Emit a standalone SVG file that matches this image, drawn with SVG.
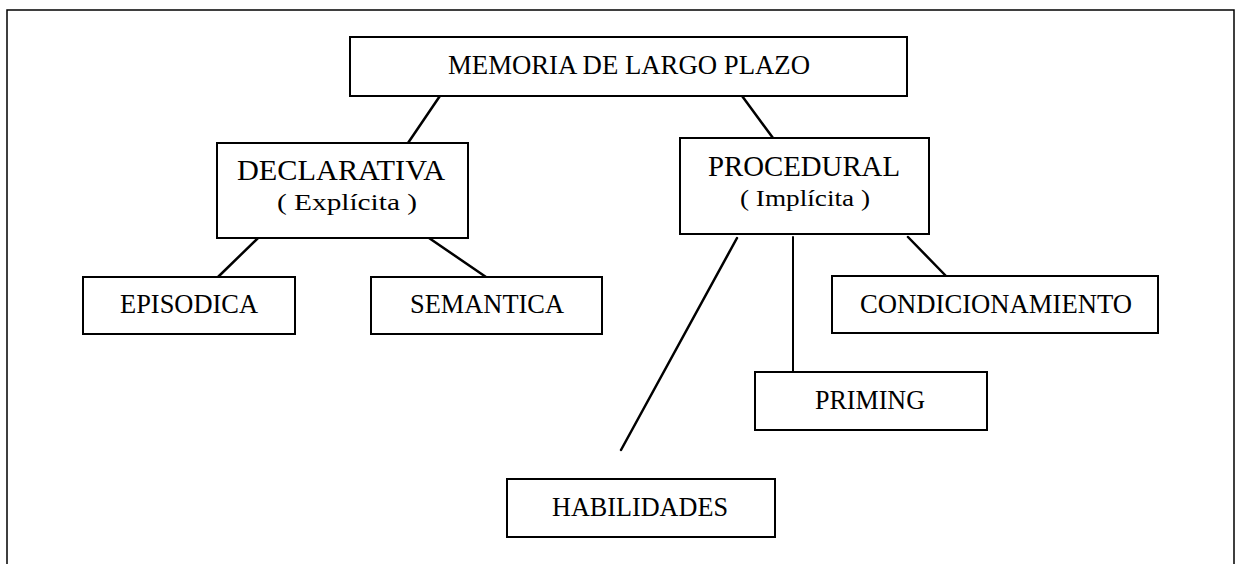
<svg xmlns="http://www.w3.org/2000/svg" width="1244" height="564" viewBox="0 0 1244 564">
<style>
.box{fill:#fff;stroke:#000;stroke-width:2}
.t{font-family:"Liberation Serif","Times New Roman",serif;fill:#000;text-anchor:middle}
.s{font-size:27px}
.b{font-size:29px}
.p{font-size:24px}
.c{stroke:#000;stroke-width:2.5;fill:none;stroke-linecap:round}
</style>
<rect width="1244" height="564" fill="#fff"/>
<path d="M7,564 V10 H1234 V564" fill="none" stroke="#000" stroke-width="1.5"/>
<g id="connectors">
<line class="c" x1="446" y1="87" x2="408" y2="143"/>
<line class="c" x1="734" y1="85" x2="773" y2="138"/>
<line class="c" x1="258" y1="238" x2="218" y2="277"/>
<line class="c" x1="429" y1="238" x2="486" y2="277"/>
<line class="c" x1="737" y1="238" x2="621" y2="450"/>
<line class="c" x1="793" y1="237" x2="793" y2="372" style="stroke-width:2"/>
<line class="c" x1="908" y1="237" x2="946" y2="276"/>
</g>
<g id="memoria">
<rect class="box" x="350" y="37" width="557" height="59"/>
<text class="t s" x="629" y="74" textLength="362" lengthAdjust="spacingAndGlyphs">MEMORIA DE LARGO PLAZO</text>
</g>
<g id="declarativa">
<rect class="box" x="217" y="143" width="251" height="95"/>
<text class="t b" x="341" y="180" textLength="208" lengthAdjust="spacingAndGlyphs">DECLARATIVA</text>
<text class="t p" x="347" y="210" textLength="140" lengthAdjust="spacingAndGlyphs">( Explícita )</text>
</g>
<g id="procedural">
<rect class="box" x="680" y="138" width="249" height="96"/>
<text class="t b" x="804" y="176" textLength="192" lengthAdjust="spacingAndGlyphs">PROCEDURAL</text>
<text class="t p" x="805" y="206" textLength="130" lengthAdjust="spacingAndGlyphs">( Implícita )</text>
</g>
<g id="episodica">
<rect class="box" x="83" y="277" width="212" height="57"/>
<text class="t s" x="189" y="313" textLength="138" lengthAdjust="spacingAndGlyphs">EPISODICA</text>
</g>
<g id="semantica">
<rect class="box" x="371" y="277" width="231" height="57"/>
<text class="t s" x="487" y="313" textLength="154" lengthAdjust="spacingAndGlyphs">SEMANTICA</text>
</g>
<g id="condicionamiento">
<rect class="box" x="832" y="276" width="326" height="57"/>
<text class="t s" x="996" y="313" textLength="272" lengthAdjust="spacingAndGlyphs">CONDICIONAMIENTO</text>
</g>
<g id="priming">
<rect class="box" x="755" y="372" width="232" height="58"/>
<text class="t s" x="870" y="409" textLength="110" lengthAdjust="spacingAndGlyphs">PRIMING</text>
</g>
<g id="habilidades">
<rect class="box" x="507" y="479" width="268" height="58"/>
<text class="t s" x="640" y="516" textLength="176" lengthAdjust="spacingAndGlyphs">HABILIDADES</text>
</g>
</svg>
